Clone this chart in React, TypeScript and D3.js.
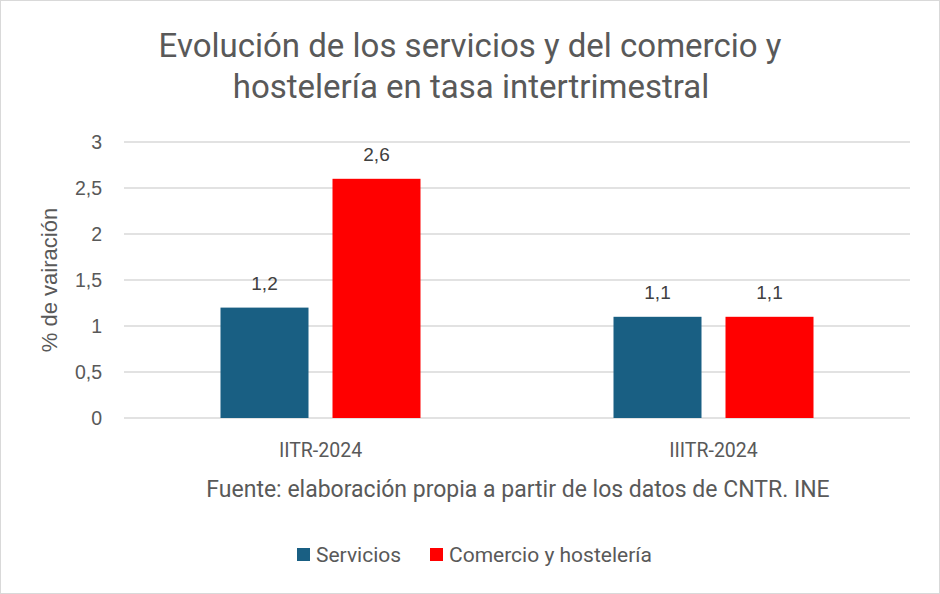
import React from "react";
import * as d3 from "d3";

const categories = ["IITR-2024", "IIITR-2024"];
const seriesNames = ["Servicios", "Comercio y hostelería"];
const servicios = [1.2, 1.1];
const comercio = [2.6, 1.1];
const yTicks = [0, 0.5, 1, 1.5, 2, 2.5, 3];
const colors = ["#195F83", "#FF0000"];

const W = 940, H = 594;
const M = { left: 124, right: 910, top: 142, bottom: 418 };
const fmt = (v: number) => String(v).replace(".", ",");

export default function App() {
  const y = d3.scaleLinear().domain([0, 3]).range([M.bottom, M.top]);
  const x0 = d3.scaleBand().domain(categories).range([M.left, M.right]);
  const x1 = d3.scaleBand().domain(seriesNames).range([0, 200]).paddingInner(0.2143);
  const series = [servicios, comercio];
  const grey = "#595959";
  const tickFont = "'Liberation Sans', Arial, sans-serif";
  const aptos = "Roboto, 'Noto Sans', sans-serif";
  return (
    <svg width={W} height={H} style={{ position: "absolute", left: 0, top: 0 }} >
      <rect x={0.5} y={0.5} width={W - 1} height={H - 1} fill="#fff" stroke="#d9d9d9" />
      <text x={470} y={57} textAnchor="middle" fontFamily={aptos} fontSize={33} fill={grey}>
        Evolución de los servicios y del comercio y
      </text>
      <text x={471} y={98} textAnchor="middle" fontFamily={aptos} fontSize={33} fill={grey}>
        hostelería en tasa intertrimestral
      </text>
      {yTicks.map((t) => (
        <g key={t}>
          <line x1={M.left} x2={M.right} y1={y(t)} y2={y(t)} stroke="#d9d9d9" strokeWidth={1.3} />
          <text x={102} y={y(t) + 7} textAnchor="end" fontFamily={tickFont} fontSize={19.5} fill={grey}>
            {fmt(t)}
          </text>
        </g>
      ))}
      <text transform={`translate(57,${(M.top + M.bottom) / 2}) rotate(-90)`} textAnchor="middle" fontFamily={tickFont} fontSize={22} fill={grey}>
        % de vairación
      </text>
      {categories.map((c, ci) => {
        const cx = (x0(c) as number) + x0.bandwidth() / 2 - 100;
        return (
          <g key={c}>
            {series.map((s, si) => {
              const bx = cx + (x1(seriesNames[si]) as number);
              const bw = x1.bandwidth();
              return (
                <g key={si}>
                  <rect x={bx} y={y(s[ci])} width={bw} height={y(0) - y(s[ci])} fill={colors[si]} />
                  <text x={bx + bw / 2} y={y(s[ci]) - 18} textAnchor="middle" fontFamily={tickFont} fontSize={19} fill="#404040">
                    {fmt(s[ci])}
                  </text>
                </g>
              );
            })}
            <text x={cx + 100} y={457} textAnchor="middle" fontFamily={aptos} fontSize={19.5} fill={grey}>
              {c}
            </text>
          </g>
        );
      })}
      <text x={518} y={497} textAnchor="middle" fontFamily={aptos} fontSize={23} fill={grey}>
        Fuente: elaboración propia a partir de los datos de CNTR. INE
      </text>
      {seriesNames.map((n, i) => {
        const lx = i === 0 ? 297 : 430;
        return (
          <g key={n}>
            <rect x={lx} y={548} width={13} height={13} fill={colors[i]} />
            <text x={lx + 19} y={562} fontFamily={aptos} fontSize={21} fill={grey}>
              {n}
            </text>
          </g>
        );
      })}
    </svg>
  );
}
